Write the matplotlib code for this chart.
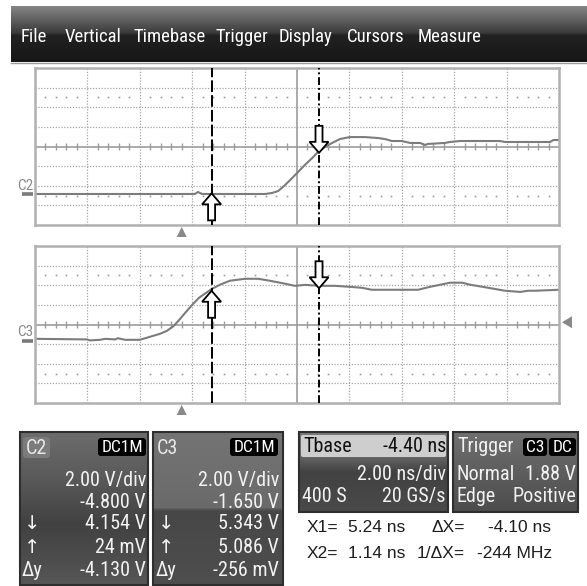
import numpy as np
import matplotlib
matplotlib.use("Agg")
import matplotlib.pyplot as plt
from matplotlib import font_manager
from matplotlib.colors import to_rgb
from matplotlib.patches import Polygon, Rectangle, FancyBboxPatch
from matplotlib.transforms import ScaledTranslation

# --- scope settings ---
menu_items = ["File", "Vertical", "Timebase", "Trigger", "Display", "Cursors", "Measure"]

volts_per_div = [2.00, 2.00]      # C2, C3
offsets = [-4.800, -1.650]        # V
tbase_ns = -4.40
ns_per_div = 2.00
n_samples = 400
sample_rate = 20                  # GS/s
x1_ns, x2_ns = 5.24, 1.14
c2_cursor = [4.154, 0.024]        # value at X1 (down arrow) and X2 (up arrow)
c3_cursor = [5.343, 5.086]
delta_y = [-4.130, -0.256]        # as shown by the scope
trig_level = 1.88

# traces in screen divisions (x 0..10, y -4..4)
c2_x = [0, 3.05, 3.11, 3.19, 4.39, 4.52, 4.64, 4.75, 4.87, 5.02, 5.15, 5.29, 5.40,
        5.53, 5.67, 5.82, 6.01, 6.30, 6.55, 6.68, 6.81, 7.00, 7.16, 7.35, 7.44,
        7.50, 7.82, 7.92, 8.11, 8.87, 8.97, 9.83, 9.89, 10]
c2_y = [-2.42, -2.42, -2.32, -2.42, -2.42, -2.37, -2.27, -2.02, -1.71, -1.30, -0.94,
        -0.59, -0.28, -0.03, 0.18, 0.38, 0.48, 0.48, 0.43, 0.38, 0.28, 0.28, 0.18,
        0.18, 0.08, 0.13, 0.18, 0.23, 0.28, 0.28, 0.23, 0.23, 0.33, 0.33]
c3_x = [0, 0.99, 1.05, 1.24, 1.34, 1.53, 1.58, 1.72, 2.00, 2.19, 2.39, 2.52, 2.65,
        2.77, 2.90, 3.02, 3.13, 3.24, 3.38, 3.53, 3.72, 4.01, 4.26, 4.48, 4.77, 4.96,
        5.15, 5.44, 5.73, 6.01, 6.24, 6.43, 7.31, 7.54, 7.92, 8.15, 8.30, 8.65, 8.97,
        9.26, 9.41, 9.54, 10]
c3_y = [-0.73, -0.76, -0.81, -0.78, -0.73, -0.76, -0.70, -0.78, -0.78, -0.63, -0.47,
        -0.32, -0.07, 0.29, 0.70, 1.06, 1.36, 1.57, 1.82, 2.03, 2.23, 2.33, 2.33, 2.23,
        2.08, 1.97, 2.02, 1.97, 1.97, 1.92, 1.87, 1.77, 1.77, 1.92, 2.13, 2.13, 2.03,
        1.87, 1.72, 1.66, 1.72, 1.72, 1.77]

W, H = 587, 586
PX0, PW, PH = 35, 524, 157
PANEL_TOPS = [68, 246]

# the scope uses a narrow font; shrink the regular one if no narrow face exists
avail = {f.name for f in font_manager.fontManager.ttflist}
narrow = [f for f in ["Liberation Sans Narrow", "Arial Narrow", "Roboto Condensed",
                      "Open Sans Condensed", "DejaVu Sans Condensed"] if f in avail]
if narrow:
    NARROW, K = narrow[0], 1.0
else:
    NARROW, K = ("Liberation Sans" if "Liberation Sans" in avail else "DejaVu Sans"), 0.85
REGULAR = "Liberation Sans" if "Liberation Sans" in avail else "DejaVu Sans"
plt.rcParams["font.family"] = [NARROW, "DejaVu Sans"]


def fmt_v(v):
    if abs(v) < 1:
        return f"{v * 1000:.0f} mV"
    return f"{v:.3f} V"


fig = plt.figure(figsize=(W / 100, H / 100), dpi=100)
bg = fig.add_axes([0, 0, 1, 1], zorder=0)
bg.set_autoscale_on(False)
bg.set_xlim(0, W)
bg.set_ylim(H, 0)
bg.axis("off")


def grad(x0, y0, x1, y1, stops, colors, z=1):
    t = np.linspace(0, 1, 80)
    cols = np.array([to_rgb(c) for c in colors])
    img = np.stack([np.interp(t, stops, cols[:, k]) for k in range(3)], axis=-1)[:, None, :]
    bg.imshow(img, extent=(x0, x1, y1, y0), origin="upper", aspect="auto",
              interpolation="bilinear", zorder=z)


def tag(x0, y0, x1, y1, text, fc="black", tc="white", size=12):
    bg.add_patch(FancyBboxPatch((x0, y0), x1 - x0, y1 - y0,
                                boxstyle="round,pad=0,rounding_size=3",
                                fc=fc, ec="none", zorder=3))
    bg.text((x0 + x1) / 2, (y0 + y1) / 2 + 0.5, text, color=tc, fontsize=size,
            ha="center", va="center", zorder=4)


def frame(x0, y0, x1, y1):
    bg.add_patch(Rectangle((x0, y0), x1 - x0, y1 - y0, fc="none", ec="#2e2e2e",
                           lw=1.5, zorder=5))


# menu bar
grad(11, 6, W, 62, [0, 0.48, 0.52, 1], ["#858585", "#3a3a3a", "#222222", "#161616"])
bg.plot([11, W], [62.5, 62.5], color="#9a9a9a", lw=1, zorder=2)
menu_x = [21, 65, 133, 215, 279, 347, 418]
for name, mx in zip(menu_items, menu_x):
    bg.text(mx, 42, name, color="white", fontsize=13.5 * K, ha="left", va="baseline", zorder=3)

# --- the two graticules ---
trig_div = 5 + tbase_ns / ns_per_div
cur_div = [trig_div + x1_ns / ns_per_div, trig_div + x2_ns / ns_per_div]


def make_panel(top):
    ax = fig.add_axes([PX0 / W, 1 - (top + PH) / H, PW / W, PH / H], zorder=3)
    ax.set_xlim(0, 10)
    ax.set_ylim(-4, 4)
    ax.set_xticks([])
    ax.set_yticks([])
    for s in ax.spines.values():
        s.set_color("#b0b0b0")
        s.set_linewidth(1.8)
    for gx in range(1, 10):
        if gx == 5:
            ax.axvline(gx, color="#9c9c9c", lw=1.2, zorder=1)
        else:
            ax.axvline(gx, color="#a4a4a4", lw=0.9, ls=(0, (1, 1.3)), zorder=1)
    for gy in range(-3, 4):
        if gy == 0:
            ax.axhline(gy, color="#9c9c9c", lw=1.2, zorder=1)
        else:
            ax.axhline(gy, color="#a4a4a4", lw=0.9, ls=(0, (1, 1.3)), zorder=1)
    minor = np.arange(1, 50) * 0.2
    minor = minor[np.abs(minor - np.round(minor)) > 1e-6]
    ax.vlines(minor, -0.17, 0.17, color="#9c9c9c", lw=1.0, zorder=1)
    for yy in (2.5, -2.5):
        ax.plot(minor, np.full_like(minor, yy), ls="none", marker="s", ms=1.2,
                mec="none", mfc="#9a9a9a", zorder=1)
    return ax


def px_poly(ax, x, y, pts, **kw):
    tr = fig.dpi_scale_trans + ScaledTranslation(x, y, ax.transData)
    ax.add_patch(Polygon(np.asarray(pts, float) / fig.dpi, closed=True, transform=tr,
                         clip_on=False, **kw))


def hollow_arrow(ax, x, y, up):
    s = 1 if up else -1
    head, shaft, hw, sw = 11, 16, 9.5, 3.5
    pts = np.array([(0, 0), (hw, -head), (sw, -head), (sw, -head - shaft),
                    (-sw, -head - shaft), (-sw, -head), (-hw, -head)], float)
    pts[:, 1] *= s
    px_poly(ax, x, y, pts, fc="white", ec="black", lw=1.3, zorder=6)


panels = [make_panel(t) for t in PANEL_TOPS]
traces = [(c2_x, c2_y), (c3_x, c3_y)]
cursors = [c2_cursor, c3_cursor]
names = ["C2", "C3"]
label_lift = [4, 5]

for i, ax in enumerate(panels):
    tx, ty = traces[i]
    ax.plot(tx, ty, color="#7c7c7c", lw=1.5, zorder=2)
    ax.axvline(cur_div[1], color="black", lw=1.4, ls=(0, (6, 1.6)), zorder=4)
    ax.axvline(cur_div[0], color="black", lw=1.4, ls=(0, (4, 1.5, 1, 1.5)), zorder=4)
    ground = offsets[i] / volts_per_div[i]
    hollow_arrow(ax, cur_div[0], (offsets[i] + cursors[i][0]) / volts_per_div[i], up=False)
    hollow_arrow(ax, cur_div[1], (offsets[i] + cursors[i][1]) / volts_per_div[i], up=True)
    # ground marker and channel name
    ax.plot([-0.25, -0.03], [ground, ground], color="#7a7a7a", lw=2.6,
            solid_capstyle="butt", clip_on=False)
    ax.text(-0.03, ground + label_lift[i] / (PH / 8), names[i], color="#8a8a8a",
            fontsize=11, ha="right", va="baseline", clip_on=False)
    # trigger position marker under the graticule
    px_poly(ax, trig_div, -4, [(0, -2), (5, -12), (-5, -12)], fc="#888888", ec="none", zorder=6)

# trigger level marker on C3
px_poly(panels[1], 10, (offsets[1] + trig_level) / volts_per_div[1],
        [(3, 0), (13, 6), (13, -6)], fc="#888888", ec="none", zorder=6)

# --- channel boxes ---
rows_y = [486, 507.5, 529, 553, 576]
TXT = "#f2f2f2"
BOX = 14.5 * K
TAG = 12.5 * K

# C2
grad(20, 432, 148, 585, [0, 0.3, 0.6, 1], ["#6c6c6c", "#5a5a5a", "#414141", "#565656"])
frame(20, 432, 148, 585)
bg.add_patch(FancyBboxPatch((23, 437), 27, 21, boxstyle="round,pad=0,rounding_size=3",
                            fc="#7b7b7b", ec="none", zorder=3))
bg.text(26, 454, "C2", color="#e8e8e8", fontsize=BOX, va="baseline", zorder=4)
tag(98, 438, 146, 456, "DC1M", size=TAG)
c2_rows = [f"{volts_per_div[0]:.2f} V/div", f"{offsets[0]:.3f} V", fmt_v(c2_cursor[0]),
           fmt_v(c2_cursor[1]), fmt_v(delta_y[0])]
for yy, s in zip(rows_y, c2_rows):
    bg.text(146, yy, s, color=TXT, fontsize=BOX, ha="right", va="baseline", zorder=4)

# C3
grad(153, 432, 283, 585, [0, 0.5, 0.51, 1], ["#747474", "#6a6a6a", "#474747", "#4e4e4e"])
frame(153, 432, 283, 585)
bg.text(157, 454, "C3", color="#e8e8e8", fontsize=BOX, va="baseline", zorder=4)
tag(230, 438, 278, 456, "DC1M", size=TAG)
c3_rows = [f"{volts_per_div[1]:.2f} V/div", f"{offsets[1]:.3f} V", fmt_v(c3_cursor[0]),
           fmt_v(c3_cursor[1]), fmt_v(delta_y[1])]
for yy, s in zip(rows_y, c3_rows):
    bg.text(279, yy, s, color=TXT, fontsize=BOX, ha="right", va="baseline", zorder=4)

for x0 in (22, 156):
    bg.text(x0 + 2, rows_y[2], "\u2193", color=TXT, fontsize=14, va="baseline", zorder=4)
    bg.text(x0 + 2, rows_y[3], "\u2191", color=TXT, fontsize=14, va="baseline", zorder=4)
    bg.text(x0, rows_y[4], "\u0394y", color=TXT, fontsize=BOX, va="baseline", zorder=4)

# timebase box
grad(299, 432, 448, 512, [0, 0.3, 0.5, 1], ["#7a7a7a", "#666666", "#424242", "#4a4a4a"])
frame(299, 432, 448, 512)
bg.add_patch(FancyBboxPatch((301, 435), 145, 22, boxstyle="round,pad=0,rounding_size=2",
                            fc="#cecece", ec="none", zorder=3))
bg.text(303, 452, "Tbase", color="#111111", fontsize=BOX, va="baseline", zorder=4)
bg.text(446, 452, f"{tbase_ns:.2f} ns", color="#111111", fontsize=BOX, ha="right",
        va="baseline", zorder=4)
bg.text(446, 480, f"{ns_per_div:.2f} ns/div", color=TXT, fontsize=BOX, ha="right",
        va="baseline", zorder=4)
bg.text(302, 502, f"{n_samples} S", color=TXT, fontsize=BOX, va="baseline", zorder=4)
bg.text(446, 502, f"{sample_rate} GS/s", color=TXT, fontsize=BOX, ha="right",
        va="baseline", zorder=4)

# trigger box
grad(453, 432, 578, 512, [0, 0.5, 1], ["#707070", "#5e5e5e", "#4c4c4c"])
frame(453, 432, 578, 512)
bg.text(457, 452, "Trigger", color=TXT, fontsize=BOX, va="baseline", zorder=4)
tag(523, 438, 547, 456, "C3", size=TAG)
tag(549, 438, 576, 456, "DC", size=TAG)
bg.text(457, 480, "Normal", color=TXT, fontsize=BOX, va="baseline", zorder=4)
bg.text(576, 480, f"{trig_level:.2f} V", color=TXT, fontsize=BOX, ha="right",
        va="baseline", zorder=4)
bg.text(457, 502, "Edge", color=TXT, fontsize=BOX, va="baseline", zorder=4)
bg.text(576, 502, "Positive", color=TXT, fontsize=BOX, ha="right", va="baseline", zorder=4)

# cursor readouts
dx = x2_ns - x1_ns
RD = dict(color="#1e1e1e", fontsize=12.5, va="baseline", family=[REGULAR, "DejaVu Sans"], zorder=4)
bg.text(307, 532, "X1=", **RD)
bg.text(405, 532, f"{x1_ns:.2f} ns", ha="right", **RD)
bg.text(465, 532, "\u0394X=", ha="right", **RD)
bg.text(551, 532, f"{dx:.2f} ns", ha="right", **RD)
bg.text(307, 558, "X2=", **RD)
bg.text(405, 558, f"{x2_ns:.2f} ns", ha="right", **RD)
bg.text(465, 558, "1/\u0394X=", ha="right", **RD)
bg.text(552, 558, f"{1000 / dx:.0f} MHz", ha="right", **RD)

fig.savefig("out.png", dpi=100)
